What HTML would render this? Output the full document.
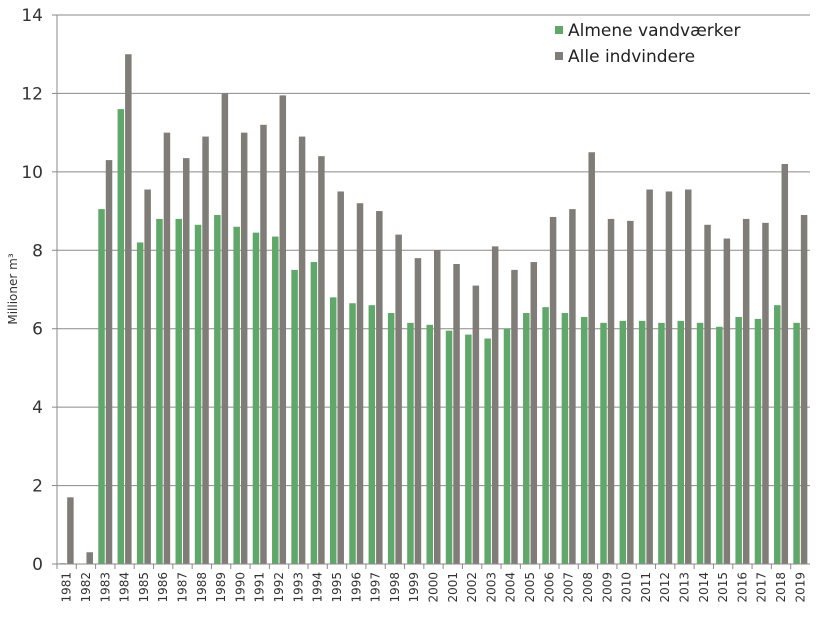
<!DOCTYPE html>
<html><head><meta charset="utf-8"><style>
body{margin:0;background:#fff;width:835px;height:619px;overflow:hidden}
svg{display:block;font-family:"DejaVu Sans","Liberation Sans",sans-serif}
</style></head><body>
<svg id="chart" width="835" height="619" viewBox="0 0 835 619"></svg>
<script>
const years=[1981,1982,1983,1984,1985,1986,1987,1988,1989,1990,1991,1992,1993,1994,1995,1996,1997,1998,1999,2000,2001,2002,2003,2004,2005,2006,2007,2008,2009,2010,2011,2012,2013,2014,2015,2016,2017,2018,2019];
const almene=[0.02,0,9.05,11.6,8.2,8.8,8.8,8.65,8.9,8.6,8.45,8.35,7.5,7.7,6.8,6.65,6.6,6.4,6.15,6.1,5.95,5.85,5.75,6.0,6.4,6.55,6.4,6.3,6.15,6.2,6.2,6.15,6.2,6.15,6.05,6.3,6.25,6.6,6.15];
const alle=[1.7,0.3,10.3,13.0,9.55,11.0,10.35,10.9,12.0,11.0,11.2,11.95,10.9,10.4,9.5,9.2,9.0,8.4,7.8,8.0,7.65,7.1,8.1,7.5,7.7,8.85,9.05,10.5,8.8,8.75,9.55,9.5,9.55,8.65,8.3,8.8,8.7,10.2,8.9];
const yTicks=[0,2,4,6,8,10,12,14];
const NS="http://www.w3.org/2000/svg";
const svg=document.getElementById('chart');
const X0=57,X1=810,Y0=564,Y1=15,YMAX=14;
const bw=(X1-X0)/years.length;
const y=v=>Y0-(v/YMAX)*(Y0-Y1);
const xc=i=>X0+bw*(i+0.5);
function mk(t,a){const e=document.createElementNS(NS,t);for(const k in a)e.setAttribute(k,a[k]);svg.appendChild(e);return e;}
yTicks.forEach(t=>{
  const g=mk('line',{x1:X0,x2:X1,y1:y(t),y2:y(t),stroke:'#8a8a8a','stroke-width':1});
  
  
  const tk=mk('line',{x1:X0-5,x2:X0,y1:y(t),y2:y(t),stroke:'#8a8a8a'});
  
  
  const l=mk('text',{x:X0-14,y:y(t)+6,'text-anchor':'end','font-size':17,fill:'#333'});
  l.textContent=t;
  
  
});
const ax=mk('line',{x1:X0,x2:X0,y1:Y1,y2:Y0,stroke:'#8a8a8a'});


const w=6.5;
years.forEach((yr,i)=>{
  const c=xc(i);
  const g=mk('rect',{x:c-w-0.5,y:y(almene[i]),width:w,height:Y0-y(almene[i]),fill:'#5fa86a'});
  
  
  const r=mk('rect',{x:c+0.5,y:y(alle[i]),width:w,height:Y0-y(alle[i]),fill:'#807d79'});
  
  
  const tk=mk('line',{x1:X0+bw*i,x2:X0+bw*i,y1:Y0,y2:Y0+5,stroke:'#8a8a8a'});
  
  
  const l=mk('text',{x:0,y:0,'text-anchor':'end','font-size':12,fill:'#333',transform:`translate(${c+4},${Y0+8}) rotate(-90)`});
  l.textContent=yr;
  
  
});
const xa=mk('line',{x1:X0,x2:X1,y1:Y0,y2:Y0,stroke:'#8a8a8a'});


const yt=mk('text',{x:0,y:0,'text-anchor':'middle','font-size':12,fill:'#333',transform:'translate(17,289) rotate(-90)'});
yt.textContent='Millioner  m³';


const leg=[['Almene vandværker','#5fa86a',36],['Alle indvindere','#807d79',62]];
leg.forEach(([t,c,ly],k)=>{
  const s=mk('rect',{x:555,y:ly-10,width:8,height:8,fill:c});
  
  
  const tx=mk('text',{x:568,y:ly,'font-size':17,fill:'#222'});
  tx.textContent=t;
  
  
});
</script>
</body></html>
